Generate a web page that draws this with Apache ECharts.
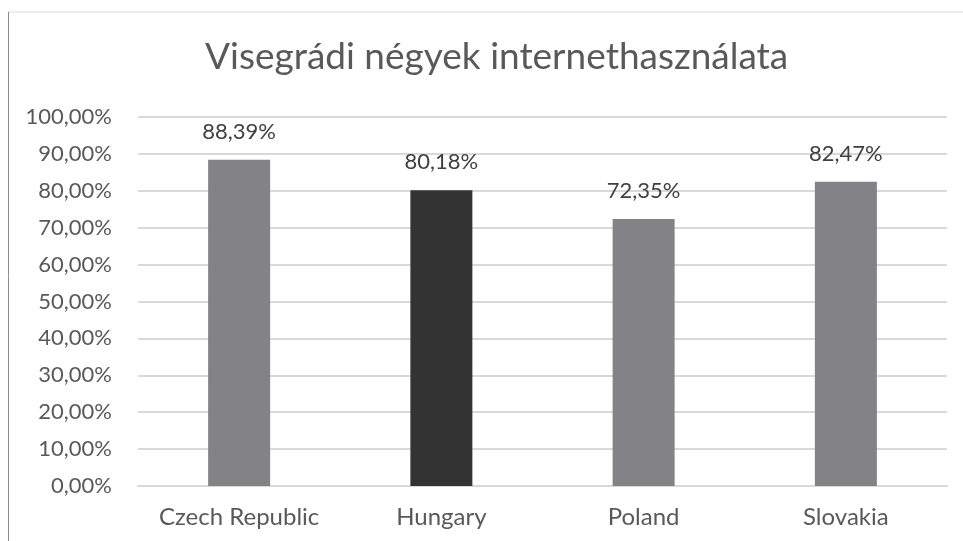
<!DOCTYPE html>
<html>
<head>
<meta charset="utf-8">
<script src="https://cdn.jsdelivr.net/npm/echarts@6/dist/echarts.min.js"></script>
<style>
  html, body { margin: 0; padding: 0; background: #fff; }
  #chart { width: 963px; height: 541px; }
</style>
</head>
<body>
<div id="chart"></div>
<script>
// adatok
const countries = ['Czech Republic', 'Hungary', 'Poland', 'Slovakia']
const usage = [88.39, 80.18, 72.35, 82.47]
const barColors = ['#838387', '#333333', '#838387', '#838387']

const pct = v => v.toFixed(2).replace('.', ',') + '%'
const font = 'Lato, "Open Sans", sans-serif'

let chart = echarts.init(document.getElementById('chart'))
chart.setOption({
  animation: false,
  title: {
    text: 'Visegrádi négyek internethasználata',
    left: 200,
    top: 34,
    textStyle: { fontFamily: font, fontSize: 37, fontWeight: 'normal', color: '#595959' }
  },
  graphic: [
    { type: 'line', shape: { x1: 8, y1: 12, x2: 963, y2: 12 }, style: { stroke: '#d9d9d9', lineWidth: 1 } },
    { type: 'line', shape: { x1: 8.5, y1: 12, x2: 8.5, y2: 541 }, style: { stroke: '#8c8c8c', lineWidth: 1 } }
  ],
  grid: { left: 138, right: 16, top: 117, bottom: 55 },
  xAxis: {
    type: 'category',
    data: countries,
    axisLine: { lineStyle: { color: '#d9d9d9', width: 2 } },
    axisTick: { show: false },
    axisLabel: { interval: 0, fontFamily: font, fontSize: 24, color: '#595959', margin: 19 }
  },
  yAxis: {
    type: 'value',
    min: 0,
    max: 100,
    interval: 10,
    axisLine: { show: false },
    axisTick: { show: false },
    splitLine: { lineStyle: { color: '#d9d9d9', width: 2 } },
    axisLabel: { fontFamily: font, fontSize: 22, color: '#595959', margin: 26, formatter: pct }
  },
  series: [{
    type: 'bar',
    barWidth: 62,
    data: usage.map((v, i) => ({ value: v, itemStyle: { color: barColors[i] } })),
    label: {
      show: true,
      position: 'top',
      distance: 17,
      fontFamily: font,
      fontSize: 22,
      color: '#404040',
      formatter: p => pct(p.value)
    }
  }]
})
</script>
</body>
</html>
